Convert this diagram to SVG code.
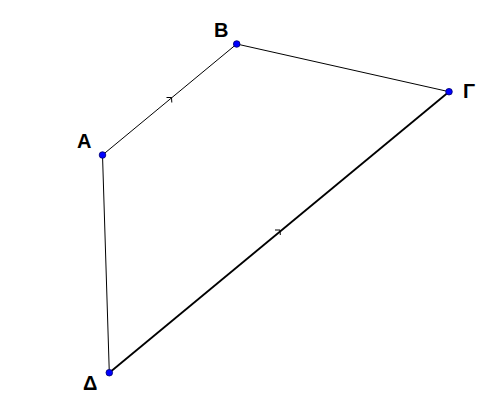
<svg xmlns="http://www.w3.org/2000/svg" width="504" height="408" viewBox="0 0 504 408">
<style>
.e{stroke:#000;fill:none;stroke-width:1}
.t{stroke:#000;fill:none;stroke-width:1.8}
.m{stroke:#000;fill:none;stroke-width:1}
.p{fill:#0000ff;stroke:#00006a;stroke-width:0.8}
.l{font-family:"Liberation Sans",Arial,sans-serif;font-weight:bold;font-size:20px;fill:#000}
</style>
<rect width="504" height="408" fill="#fff"/>
<g id="connectors">
<line class="e" x1="102.5" y1="155" x2="236.7" y2="44"/>
<line class="e" x1="236.7" y1="44" x2="449" y2="91.7"/>
<line class="t" x1="109.3" y1="372.7" x2="449" y2="91.7"/>
<line class="e" x1="102.5" y1="155" x2="109.3" y2="372.7"/>
<path class="m" d="M166.5,97.5 L171.5,97.5 L171.8,102.5"/>
<path class="m" d="M275,230 L280,230 L280.3,235"/>
</g>
<g id="A"><circle class="p" cx="102.5" cy="155" r="3.3"/><text class="l" x="77" y="148">A</text></g>
<g id="B"><circle class="p" cx="236.7" cy="44" r="3.3"/><text class="l" x="214" y="37">B</text></g>
<g id="G"><circle class="p" cx="449" cy="91.7" r="3.3"/><text class="l" x="463" y="98">Γ</text></g>
<g id="D"><circle class="p" cx="109.3" cy="372.7" r="3.3"/><text class="l" x="83" y="390">Δ</text></g>
</svg>
